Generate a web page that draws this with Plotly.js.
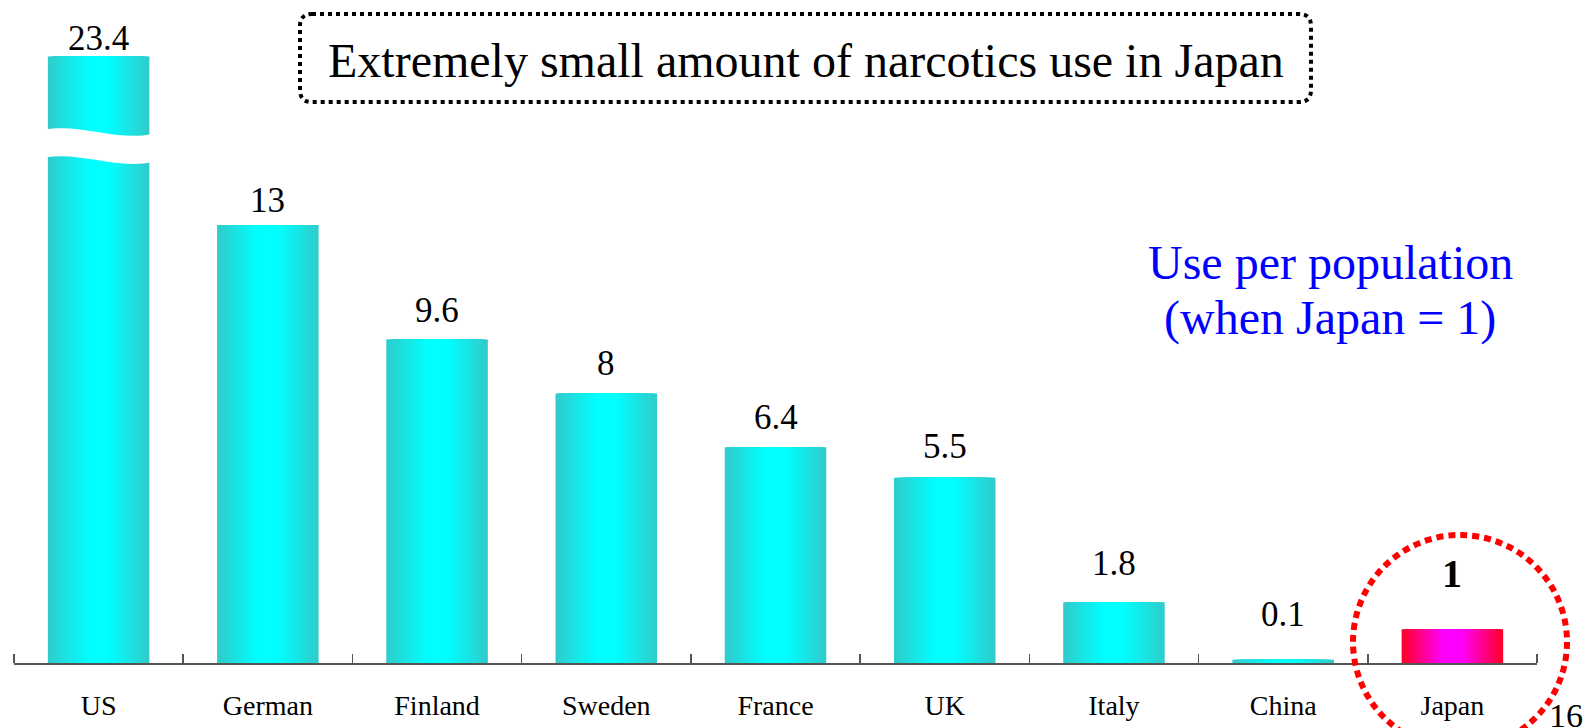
<!DOCTYPE html>
<html>
<head>
<meta charset="utf-8">
<script src="https://cdn.plot.ly/plotly-3.0.1.min.js"></script>
<style>html,body{margin:0;padding:0;background:#fff;}#chart{width:1596px;height:728px;}</style>
</head>
<body>
<div id="chart"></div>
<script>
// ---- data ----
const categories = ['US', 'German', 'Finland', 'Sweden', 'France', 'UK', 'Italy', 'China', 'Japan'];
const values = [23.4, 13, 9.6, 8, 6.4, 5.5, 1.8, 0.1, 1];
const valueLabels = ['23.4', '13', '9.6', '8', '6.4', '5.5', '1.8', '0.1', '1'];
const highlightCategory = 'Japan';
const breakCap = 18;          // bars above this are drawn truncated (axis break)
const chartTitle = 'Extremely small amount of narcotics use in Japan';
const noteLines = ['Use per population', '(when Japan = 1)'];
const pageNumber = '16';

// ---- layout constants ----
const W = 1596, H = 728;
const M = {l: 14, r: 59, t: 6, b: 65};
const PW = W - M.l - M.r, PH = H - M.t - M.b;
const px2x = px => (px - M.l) / PW;
const py2y = py => (H - M.b - py) / PH;
const serif = 'Liberation Serif';
// pixel lift of each value label above its bar (styling only)
const labelLiftPx = [-3, 3, 8, 8, 8, 10, 17, 24, 31];

const xIdx = categories.map((c, i) => i);
const shown = values.map(v => Math.min(v, breakCap));
const isHi = categories.map(c => c === highlightCategory);

// ---- gradient bars via stacked overlay layers ----
const barWidth = 0.6;
const N = 26;
const mix = (a, b, t) => 'rgb(' + a.map((v, j) => Math.round(v + (b[j] - v) * t)).join(',') + ')';
const cyanEdge = [48, 204, 204], cyanMid = [0, 255, 255];
const hiEdge = [255, 0, 40], hiMid = [255, 0, 255];
const traces = [];
for (let k = 0; k < N; k++) {
  const frac = 1 - k / N;
  const t = Math.min(1, k / (N * 0.8));
  traces.push({
    type: 'bar',
    x: xIdx,
    y: shown,
    width: barWidth * frac,
    marker: {color: isHi.map(h => h ? mix(hiEdge, hiMid, t) : mix(cyanEdge, cyanMid, t)), line: {width: 0}},
    hoverinfo: 'skip',
    showlegend: false
  });
}

// ---- value labels ----
const annotations = values.map((v, i) => {
  const hi = isHi[i];
  return {
    x: i, y: shown[i], xref: 'x', yref: 'y',
    text: hi ? '<b>' + valueLabels[i] + '</b>' : valueLabels[i],
    showarrow: false, xanchor: 'center', yanchor: 'bottom',
    yshift: labelLiftPx[i],
    font: {family: serif, size: hi ? 40 : 35, color: '#000'}
  };
});
annotations.push({
  xref: 'paper', yref: 'paper', x: px2x(806), y: py2y(60),
  text: chartTitle, showarrow: false, xanchor: 'center', yanchor: 'middle',
  font: {family: serif, size: 48, color: '#000'}
});
noteLines.forEach((t, j) => annotations.push({
  xref: 'paper', yref: 'paper', x: px2x(1330), y: py2y(262 + j * 56),
  text: t, showarrow: false, xanchor: 'center', yanchor: 'middle',
  font: {family: serif, size: 48, color: '#0000ff'}
}));
annotations.push({
  xref: 'paper', yref: 'paper', x: px2x(1566), y: py2y(715),
  text: pageNumber, showarrow: false, xanchor: 'center', yanchor: 'middle',
  font: {family: serif, size: 34, color: '#000'}
});

// ---- shapes ----
function roundRect(x0, y0, x1, y1, r) {
  const P = (px, py) => px2x(px) + ',' + py2y(py);
  return 'M' + P(x0 + r, y0) + ' L' + P(x1 - r, y0) + ' Q' + P(x1, y0) + ' ' + P(x1, y0 + r) +
    ' L' + P(x1, y1 - r) + ' Q' + P(x1, y1) + ' ' + P(x1 - r, y1) +
    ' L' + P(x0 + r, y1) + ' Q' + P(x0, y1) + ' ' + P(x0, y1 - r) +
    ' L' + P(x0, y0 + r) + ' Q' + P(x0, y0) + ' ' + P(x0 + r, y0) + ' Z';
}
const bx0 = -barWidth / 2 - 0.02, bx1 = barWidth / 2 + 0.02;
const shapes = [
  { // axis-break gap on the truncated bar
    type: 'path', xref: 'x', yref: 'y', layer: 'above',
    path: 'M' + bx0 + ',15.83 C-0.1,16.02 0.1,15.48 ' + bx1 + ',15.70 L' + bx1 + ',14.87 C0.1,14.64 -0.1,15.18 ' + bx0 + ',15.0 Z',
    fillcolor: '#ffffff', line: {width: 0}
  },
  {
    type: 'path', xref: 'paper', yref: 'paper', layer: 'above',
    path: roundRect(300, 14, 1311, 102, 12),
    line: {color: '#000', width: 4, dash: '4px,4px'}, fillcolor: 'rgba(0,0,0,0)'
  },
  {
    type: 'circle', xref: 'paper', yref: 'paper', layer: 'above',
    x0: px2x(1353), x1: px2x(1567), y0: py2y(749), y1: py2y(535),
    line: {color: '#ff0000', width: 6, dash: '7px,5px'}
  }
];

const boundaries = categories.map((c, i) => i - 0.5).concat([categories.length - 0.5]);

const layout = {
  width: W, height: H,
  margin: M,
  paper_bgcolor: '#fff', plot_bgcolor: '#fff',
  barmode: 'overlay',
  showlegend: false,
  font: {family: serif},
  xaxis: {
    range: [-0.5, categories.length - 0.5], fixedrange: true,
    tickmode: 'array', tickvals: xIdx, ticktext: categories,
    ticks: '', showgrid: false, zeroline: false,
    showline: true, linecolor: '#555', linewidth: 1.5,
    ticklabelstandoff: 17,
    tickfont: {family: serif, size: 28, color: '#000'},
    minor: {tickmode: 'array', tickvals: boundaries, ticks: 'inside', ticklen: 9, tickcolor: '#555', tickwidth: 1.5, showgrid: false}
  },
  yaxis: {
    range: [0, 19.5], visible: false, fixedrange: true, showgrid: false, zeroline: false
  },
  annotations: annotations,
  shapes: shapes
};

Plotly.newPlot('chart', traces, layout, {displayModeBar: false, staticPlot: true});
</script>
</body>
</html>
